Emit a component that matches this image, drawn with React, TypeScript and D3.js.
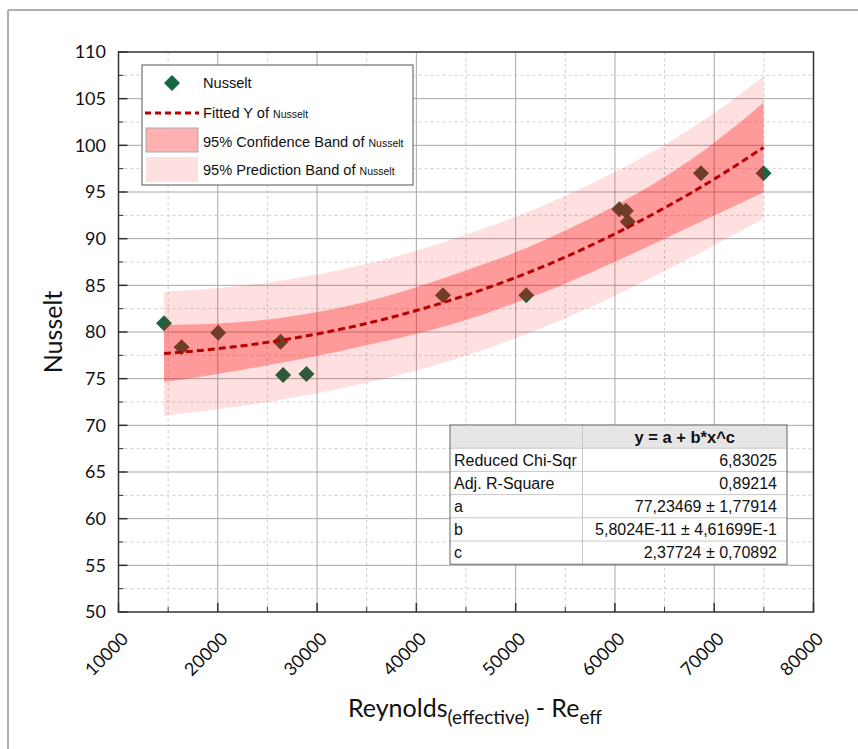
import React from 'react';
import * as d3 from 'd3';

// ---- data ----
const reynolds = [14580, 16360, 20040, 26320, 26580, 28930, 42680, 51070, 60450, 61100, 61300, 68670, 74970];
const nusselt = [80.93, 78.36, 79.93, 78.96, 75.4, 75.5, 83.93, 83.93, 93.15, 93.0, 91.8, 97.0, 97.0];

const bandX = [14580, 20000, 25000, 30000, 35000, 40000, 45000, 50000, 55000, 60000, 65000, 70000, 74970];
const fittedY = [77.69, 78.21, 78.89, 79.79, 80.92, 82.3, 83.94, 85.84, 88.03, 90.52, 93.3, 96.38, 99.78];
const confLow = [74.64, 75.51, 76.44, 77.44, 78.57, 79.8, 81.29, 83.14, 85.18, 87.52, 90.0, 92.48, 94.98];
const confHigh = [80.74, 80.91, 81.34, 82.14, 83.27, 84.8, 86.59, 88.54, 90.88, 93.52, 96.6, 100.28, 104.58];
const predLow = [71.04, 71.71, 72.49, 73.43, 74.56, 75.88, 77.46, 79.34, 81.47, 83.89, 86.53, 89.3, 92.16];
const predHigh = [84.34, 84.71, 85.29, 86.15, 87.28, 88.72, 90.42, 92.34, 94.59, 97.15, 100.07, 103.46, 107.4];

const xMajorTicks = [10000, 20000, 30000, 40000, 50000, 60000, 70000, 80000];
const xMinorTicks = [15000, 25000, 35000, 45000, 55000, 65000, 75000];
const yMajorTicks = [50, 55, 60, 65, 70, 75, 80, 85, 90, 95, 100, 105, 110];
const yMinorTicks = [52.5, 57.5, 62.5, 67.5, 72.5, 77.5, 82.5, 87.5, 92.5, 97.5, 102.5, 107.5];

const legendLabels = ['Nusselt', 'Fitted Y of ', '95% Confidence Band of ', '95% Prediction Band of '];
const tableHeader = 'y = a + b*x^c';
const tableLabels = ['Reduced Chi-Sqr', 'Adj. R-Square', 'a', 'b', 'c'];
const tableValues = ['6,83025', '0,89214', '77,23469 ± 1,77914', '5,8024E-11 ± 4,61699E-1', '2,37724 ± 0,70892'];

const W = 858;
const H = 749;
const L = 118.5, R = 813.5, T = 52, B = 612;

const POINT = '#146644';
const LINE = '#b80000';
const AX = '#333333';
const tickFont = 'Lato, "Open Sans", sans-serif';
const arial = '"Liberation Sans", Arial, sans-serif';

export default function App() {
  const x = d3.scaleLinear().domain([10000, 80000]).range([L, R]);
  const y = d3.scaleLinear().domain([50, 110]).range([B, T]);

  const idx = bandX.map((_, i) => i);
  const area = (lo: number[], hi: number[]) =>
    d3.area<number>()
      .x((i) => x(bandX[i]))
      .y0((i) => y(lo[i]))
      .y1((i) => y(hi[i]))
      .curve(d3.curveMonotoneX)(idx) || '';
  const fitPath = d3.line<number>()
    .x((i) => x(bandX[i]))
    .y((i) => y(fittedY[i]))
    .curve(d3.curveMonotoneX)(idx) || '';

  const diamond = (cx: number, cy: number, r: number) =>
    `M${cx},${cy - r}L${cx + r},${cy}L${cx},${cy + r}L${cx - r},${cy}Z`;

  // legend
  const lgX = 142, lgY = 65, lgW = 271, lgH = 120;
  const rowY = [83, 113, 142, 170];

  // table
  const tbX = 450, tbY = 425, tbW = 337, rowH = 23.2, colX = 582.5;

  return (
    <svg width={W} height={H} style={{ position: 'absolute', left: 0, top: 0 }}>
      <rect x={0} y={0} width={W} height={H} fill="#ffffff" />
      {/* outer frame */}
      <line x1={8} y1={10} x2={W} y2={10} stroke="#b0b0b0" strokeWidth={2} />
      <line x1={8} y1={10} x2={8} y2={H} stroke="#b0b0b0" strokeWidth={2} />

      {/* grid */}
      {xMinorTicks.map((t) => (
        <line key={'xm' + t} x1={x(t)} x2={x(t)} y1={T} y2={B} stroke="#cfcfcf" strokeWidth={1} strokeDasharray="3,3" />
      ))}
      {yMinorTicks.map((t) => (
        <line key={'ym' + t} x1={L} x2={R} y1={y(t)} y2={y(t)} stroke="#cfcfcf" strokeWidth={1} strokeDasharray="3,3" />
      ))}
      {xMajorTicks.slice(1, -1).map((t) => (
        <line key={'xg' + t} x1={x(t)} x2={x(t)} y1={T} y2={B} stroke="#a8a8a8" strokeWidth={1} />
      ))}
      {yMajorTicks.slice(1, -1).map((t) => (
        <line key={'yg' + t} x1={L} x2={R} y1={y(t)} y2={y(t)} stroke="#a8a8a8" strokeWidth={1} />
      ))}

      {/* points (under the bands) */}
      {reynolds.map((r, i) => (
        <path key={'p' + i} d={diamond(x(r), y(nusselt[i]), 8)} fill={POINT} />
      ))}

      {/* bands */}
      <path d={area(predLow, predHigh)} fill="rgba(255,0,0,0.12)" />
      <path d={area(confLow, confHigh)} fill="rgba(255,0,0,0.31)" />

      {/* fitted line */}
      <path d={fitPath} fill="none" stroke={LINE} strokeWidth={3} strokeDasharray="7,4" />

      {/* frame */}
      <rect x={L} y={T} width={R - L} height={B - T} fill="none" stroke={AX} strokeWidth={1.5} />

      {/* ticks */}
      {xMajorTicks.map((t) => (
        <line key={'xt' + t} x1={x(t)} x2={x(t)} y1={B} y2={B - 9} stroke={AX} strokeWidth={1.5} />
      ))}
      {xMinorTicks.map((t) => (
        <line key={'xmt' + t} x1={x(t)} x2={x(t)} y1={B} y2={B - 5} stroke={AX} strokeWidth={1} />
      ))}
      {yMajorTicks.map((t) => (
        <line key={'yt' + t} x1={L} x2={L + 9} y1={y(t)} y2={y(t)} stroke={AX} strokeWidth={1.5} />
      ))}
      {yMinorTicks.map((t) => (
        <line key={'ymt' + t} x1={L} x2={L + 5} y1={y(t)} y2={y(t)} stroke={AX} strokeWidth={1} />
      ))}

      {/* tick labels */}
      {yMajorTicks.map((t) => (
        <text key={'yl' + t} x={106} y={y(t)} dy="0.36em" textAnchor="end" fontFamily={tickFont} fontSize={18} fill="#111">
          {t}
        </text>
      ))}
      {xMajorTicks.map((t) => (
        <text key={'xl' + t} transform={`translate(${x(t) + 11},${640}) rotate(-45)`} textAnchor="end" fontFamily={tickFont} fontSize={18} fill="#111">
          {t}
        </text>
      ))}

      {/* axis titles */}
      <text transform={`translate(62,332) rotate(-90)`} textAnchor="middle" fontFamily={tickFont} fontSize={25} fill="#111">
        Nusselt
      </text>
      <text x={348} y={717} fontFamily={tickFont} fontSize={25} fill="#111">
        Reynolds
        <tspan fontSize={19} dy={7}>(effective)</tspan>
        <tspan dy={-7}> - Re</tspan>
        <tspan fontSize={19} dy={7}>eff</tspan>
      </text>

      {/* legend */}
      <rect x={lgX} y={lgY} width={lgW} height={lgH} fill="#ffffff" stroke="#555" strokeWidth={1} />
      <path d={diamond(172, rowY[0], 8)} fill={POINT} />
      <line x1={145} x2={199} y1={rowY[1]} y2={rowY[1]} stroke={LINE} strokeWidth={3} strokeDasharray="6,4" />
      <rect x={146} y={128} width={52} height={24} fill="rgba(255,0,0,0.31)" stroke="#aaaaaa" strokeWidth={1} />
      <rect x={146} y={157} width={52} height={25} fill="rgba(255,0,0,0.12)" />
      {legendLabels.map((lab, i) => (
        <text key={'lg' + i} x={203} y={rowY[i]} dy="0.36em" fontFamily={arial} fontSize={14.6} fill="#111">
          {lab}
          {i > 0 ? <tspan fontSize={10.5}>Nusselt</tspan> : null}
        </text>
      ))}

      {/* stats table */}
      <rect x={tbX} y={tbY} width={tbW} height={rowH} fill="#e6e6e6" />
      <rect x={tbX} y={tbY + rowH} width={tbW} height={rowH * 5} fill="#ffffff" />
      {[1, 2, 3, 4, 5].map((k) => (
        <line key={'tr' + k} x1={tbX} x2={tbX + tbW} y1={tbY + rowH * k} y2={tbY + rowH * k} stroke="#c8c8c8" strokeWidth={1} />
      ))}
      <line x1={colX} x2={colX} y1={tbY} y2={tbY + rowH * 6} stroke="#c8c8c8" strokeWidth={1} />
      <rect x={tbX} y={tbY} width={tbW} height={rowH * 6} fill="none" stroke="#666" strokeWidth={1} />
      <text x={(colX + tbX + tbW) / 2} y={tbY + rowH / 2} dy="0.36em" textAnchor="middle" fontFamily={arial} fontWeight="bold" fontSize={16.5} fill="#111">
        {tableHeader}
      </text>
      {tableLabels.map((lab, i) => (
        <g key={'tb' + i}>
          <text x={tbX + 4} y={tbY + rowH * (i + 1.5)} dy="0.36em" fontFamily={arial} fontSize={16} fill="#111">
            {lab}
          </text>
          <text x={tbX + tbW - 10} y={tbY + rowH * (i + 1.5)} dy="0.36em" textAnchor="end" fontFamily={arial} fontSize={16} fill="#111">
            {tableValues[i]}
          </text>
        </g>
      ))}
    </svg>
  );
}
